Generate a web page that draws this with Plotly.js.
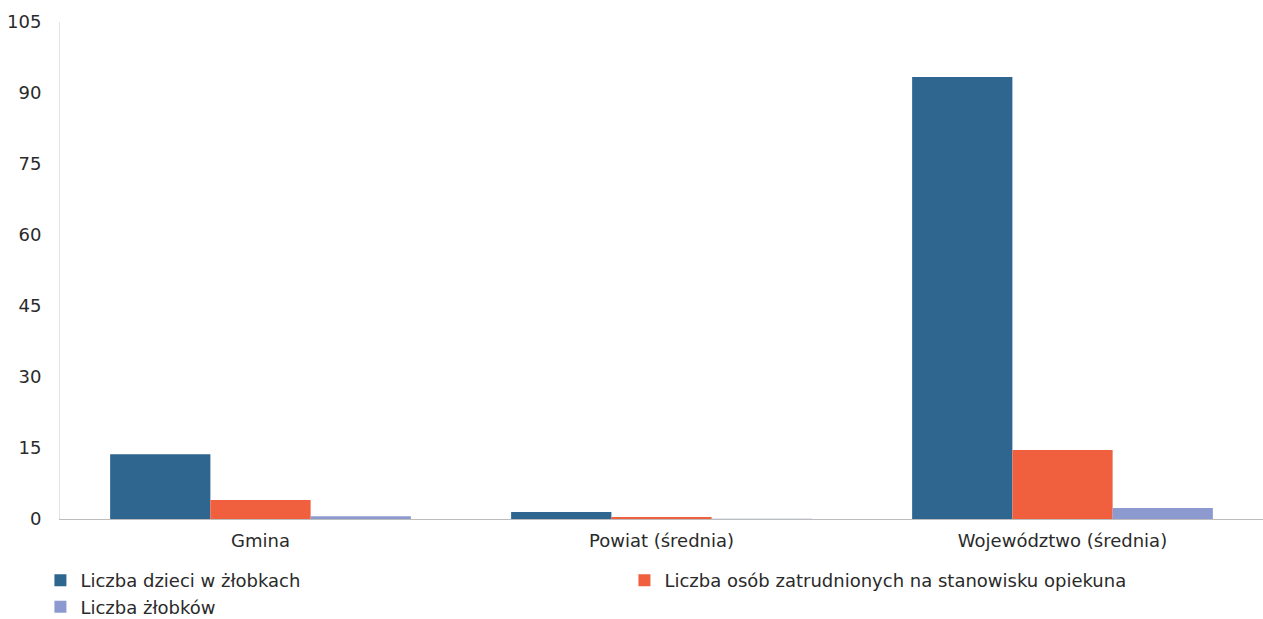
<!DOCTYPE html>
<html>
<head>
<meta charset="utf-8">
<script src="https://cdn.plot.ly/plotly-3.0.1.min.js"></script>
<style>html,body{margin:0;padding:0;background:#fff;}#chart{width:1263px;height:619px;}</style>
</head>
<body>
<div id="chart"></div>
<script>
const categories = ["Gmina", "Powiat (średnia)", "Województwo (średnia)"];
const seriesNames = ["Liczba dzieci w żłobkach", "Liczba osób zatrudnionych na stanowisku opiekuna", "Liczba żłobków"];
const dzieci = [13.7, 1.5, 93.4];
const opiekunowie = [4.0, 0.4, 14.6];
const zlobki = [0.6, 0.05, 2.3];
const yTicks = [0, 15, 30, 45, 60, 75, 90, 105];

const colors = ["#2f6690", "#f0603e", "#8c9ad0"];
const values = [dzieci, opiekunowie, zlobki];
const traces = values.map((v, i) => ({
  type: "bar",
  x: categories,
  y: v,
  name: seriesNames[i],
  marker: {color: colors[i], line: {width: 0}},
  hoverinfo: "y"
}));

const layout = {
  width: 1263, height: 619,
  margin: {l: 60, r: 0, t: 22, b: 100},
  paper_bgcolor: "#fff", plot_bgcolor: "#fff",
  font: {family: "DejaVu Sans, sans-serif", size: 18, color: "#2a2a2a"},
  barmode: "group",
  bargap: 0.25,
  bargroupgap: 0,
  showlegend: true,
  legend: {
    orientation: "h", x: 0.032, xref: "container", xanchor: "left",
    y: 0.092, yref: "container", yanchor: "top",
    entrywidth: 539, entrywidthmode: "pixels",
    font: {size: 18, color: "#2a2a2a"}, tracegroupgap: 0, itemwidth: 30,
    traceorder: "normal"
  },
  xaxis: {
    showline: true, linecolor: "#bdbdbd", linewidth: 1,
    showgrid: false, ticks: "", tickfont: {size: 18, color: "#2a2a2a"},
    ticklabelstandoff: 5, fixedrange: true
  },
  yaxis: {
    range: [0, 105], tickvals: yTicks, ticktext: yTicks.map(String),
    showline: true, linecolor: "#e3e3e3", linewidth: 1,
    showgrid: false, zeroline: false, ticks: "", ticklabelstandoff: 14,
    tickfont: {size: 18, color: "#2a2a2a"}, fixedrange: true
  }
};

Plotly.newPlot("chart", traces, layout, {displayModeBar: false, staticPlot: true});
</script>
</body>
</html>
